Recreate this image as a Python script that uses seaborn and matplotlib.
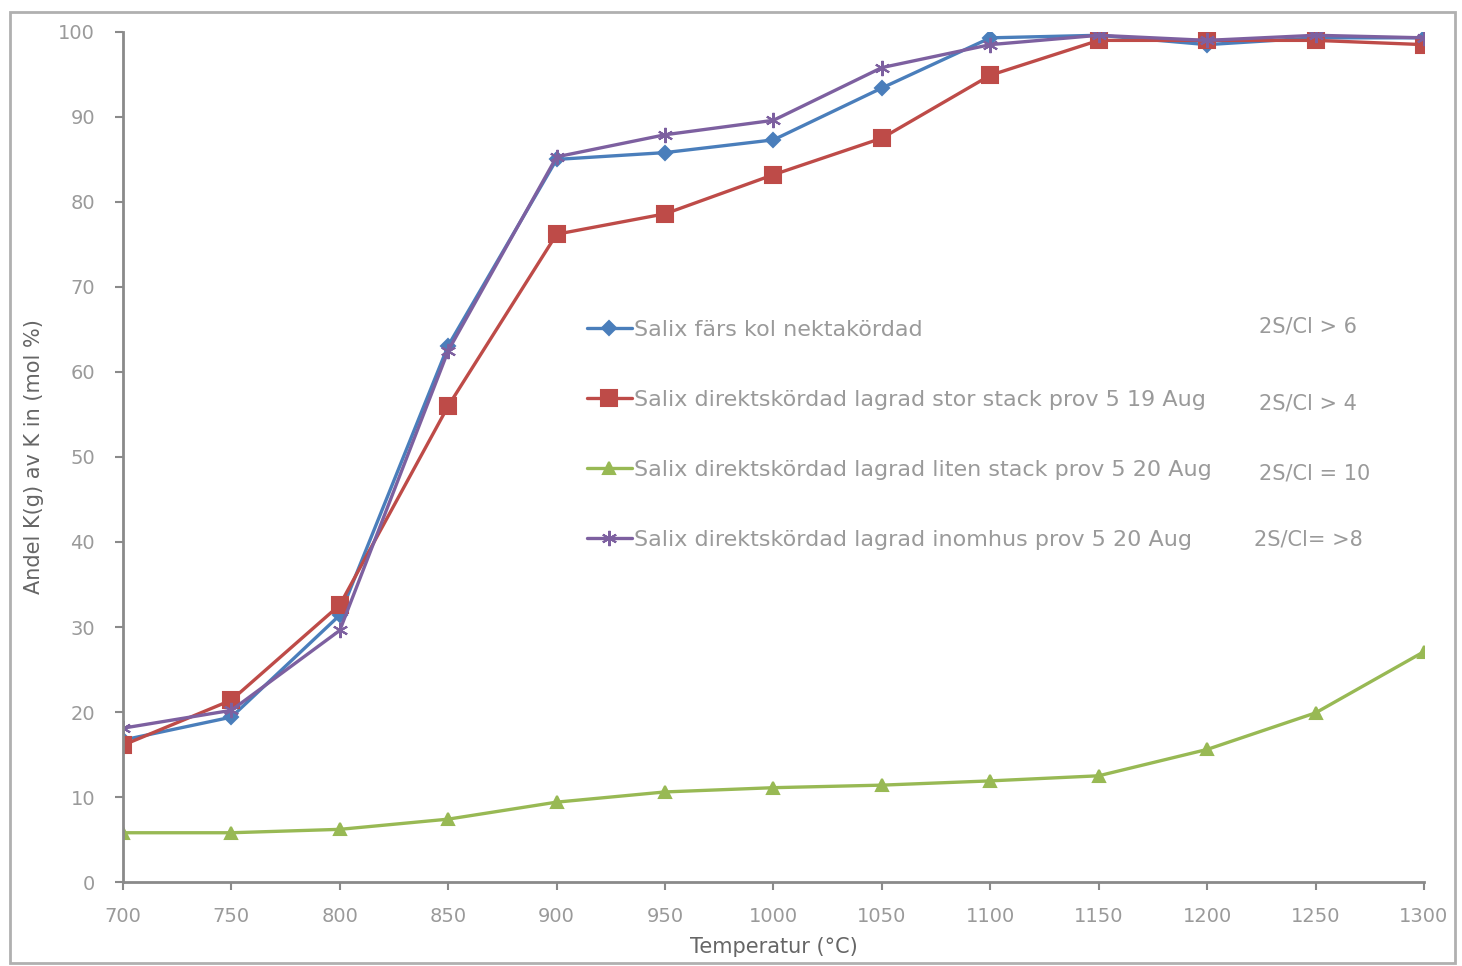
import pandas as pd
import matplotlib.pyplot as plt
import seaborn as sns
from matplotlib.patches import Rectangle

temps = [700, 750, 800, 850, 900, 950, 1000, 1050, 1100, 1150, 1200, 1250, 1300]

series_names = [
    'Salix färs kol nektakördad',
    'Salix direktskördad lagrad stor stack prov 5 19 Aug',
    'Salix direktskördad lagrad liten stack prov 5 20 Aug',
    'Salix direktskördad lagrad inomhus prov 5 20 Aug',
]
ratio_notes = ['2S/Cl > 6', '2S/Cl > 4', '2S/Cl = 10', '2S/Cl= >8']

blue = [16.7, 19.4, 31.4, 63.1, 85.0, 85.8, 87.3, 93.4, 99.3, 99.6, 98.5, 99.3, 99.3]
red = [16.1, 21.4, 32.6, 56.0, 76.2, 78.6, 83.2, 87.5, 94.9, 99.0, 99.0, 99.0, 98.5]
green = [5.8, 5.8, 6.2, 7.4, 9.4, 10.6, 11.1, 11.4, 11.9, 12.5, 15.6, 19.9, 27.1]
purple = [18.1, 20.2, 29.6, 62.5, 85.3, 87.9, 89.6, 95.8, 98.5, 99.6, 99.0, 99.6, 99.3]

colors = ['#4A7EBB', '#BE4B48', '#98B954', '#7D60A0']
markers = ['D', 's', '^', (6, 2, 0)]
sizes = [7, 11, 9, 11]


def main():
    rows = []
    for name, vals in zip(series_names, [blue, red, green, purple]):
        for t, v in zip(temps, vals):
            rows.append({'Temperatur': t, 'Andel': v, 'Serie': name})
    df = pd.DataFrame(rows)

    sns.set_style('white')
    fig = plt.figure(figsize=(14.62, 9.66), dpi=100)
    ax = fig.add_axes([0.0841, 0.0869, 0.8899, 0.8801])

    for name, c, m, s in zip(series_names, colors, markers, sizes):
        sns.lineplot(data=df[df['Serie'] == name], x='Temperatur', y='Andel',
                     color=c, marker=m, markersize=s, markeredgecolor=c,
                     markeredgewidth=1.5, linewidth=2.4, label=name, ax=ax)

    ax.set_xlim(700, 1300)
    ax.set_ylim(0, 100)
    ax.set_xticks(temps)
    ax.set_yticks(range(0, 101, 10))
    ax.tick_params(axis='both', colors='#8a8a8a', labelcolor='#9a9a9a',
                   labelsize=14, direction='out', length=6, width=1.5,
                   bottom=True, left=True)
    ax.tick_params(axis='x', pad=12)
    ax.tick_params(axis='y', pad=14)
    for side in ['top', 'right']:
        ax.spines[side].set_visible(False)
    for side in ['left', 'bottom']:
        ax.spines[side].set_color('#8a8a8a')
        ax.spines[side].set_linewidth(2)

    ax.set_xlabel('Temperatur (°C)', fontsize=15, color='#666666', labelpad=8)
    ax.set_ylabel('Andel K(g) av K in (mol %)', fontsize=15, color='#666666', labelpad=10)

    leg = ax.legend(loc='upper left', bbox_to_anchor=(0.35, 0.672), frameon=False,
                    fontsize=16, labelspacing=2.25, handlelength=2.0,
                    handletextpad=0.1, borderaxespad=0)
    for txt in leg.get_texts():
        txt.set_color('#9a9a9a')

    note_x = [0.873, 0.873, 0.873, 0.869]
    note_y = [0.646, 0.556, 0.473, 0.396]
    for note, nx, ny in zip(ratio_notes, note_x, note_y):
        ax.text(nx, ny, note, transform=ax.transAxes, fontsize=15, color='#9a9a9a')

    fig.patches.append(Rectangle((0.007, 0.003), 0.988, 0.985, transform=fig.transFigure,
                                 fill=False, edgecolor='#b0b0b0', linewidth=2))

    fig.savefig('out.png', dpi=100)


if __name__ == '__main__':
    main()
